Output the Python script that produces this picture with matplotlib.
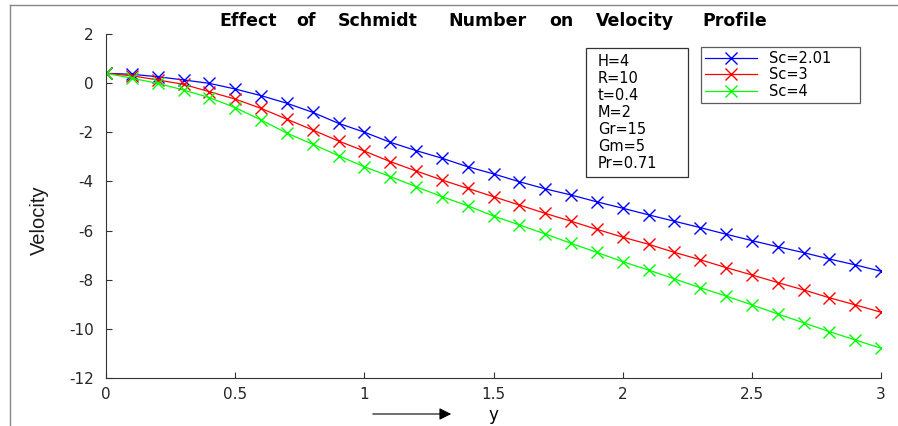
import matplotlib
matplotlib.use("Agg")
import matplotlib.pyplot as plt
from matplotlib.lines import Line2D
from matplotlib.patches import Rectangle, FancyArrowPatch

plt.rcParams['font.family'] = ['DejaVu Sans']
plt.rcParams['axes.unicode_minus'] = False

y_vals = [0.0, 0.1, 0.2, 0.3, 0.4, 0.5, 0.6, 0.7, 0.8, 0.9, 1.0,
          1.1, 1.2, 1.3, 1.4, 1.5, 1.6, 1.7, 1.8, 1.9, 2.0,
          2.1, 2.2, 2.3, 2.4, 2.5, 2.6, 2.7, 2.8, 2.9, 3.0]

vel_sc201 = [0.41, 0.37, 0.27, 0.14, 0.00, -0.23, -0.50, -0.81, -1.18, -1.63, -1.99,
             -2.40, -2.74, -3.05, -3.40, -3.69, -4.01, -4.30, -4.55, -4.83, -5.09,
             -5.36, -5.62, -5.88, -6.15, -6.41, -6.66, -6.90, -7.16, -7.40, -7.66]
vel_sc3 = [0.41, 0.31, 0.14, -0.04, -0.34, -0.64, -1.02, -1.46, -1.90, -2.35, -2.76,
           -3.19, -3.57, -3.94, -4.28, -4.62, -4.96, -5.30, -5.62, -5.95, -6.27,
           -6.56, -6.89, -7.19, -7.51, -7.81, -8.12, -8.42, -8.74, -9.03, -9.33]
vel_sc4 = [0.41, 0.21, 0.00, -0.27, -0.58, -0.99, -1.49, -2.03, -2.48, -2.95, -3.40,
           -3.80, -4.21, -4.62, -4.99, -5.41, -5.77, -6.14, -6.52, -6.89, -7.27,
           -7.61, -7.97, -8.33, -8.67, -9.03, -9.40, -9.76, -10.12, -10.46, -10.80]

series_labels = ['Sc=2.01', 'Sc=3', 'Sc=4']
series_colors = ['#0000ff', '#ff0000', '#00ff00']
param_lines = ['H=4', 'R=10', 't=0.4', 'M=2', 'Gr=15', 'Gm=5', 'Pr=0.71']
x_ticks = [0, 0.5, 1, 1.5, 2, 2.5, 3]
x_ticklabels = ['0', '0.5', '1', '1.5', '2', '2.5', '3']
y_ticks = [-12, -10, -8, -6, -4, -2, 0, 2]
title_text = 'Effect of Schmidt Number on Velocity Profile'

W, H = 898, 426
def fx(px):
    return px / W
def fy(py):
    return 1 - py / H

fig = plt.figure(figsize=(W / 100, H / 100), dpi=100)
ax_l, ax_r, ax_t, ax_b = 106, 881, 34.3, 377.7
ax = fig.add_axes([fx(ax_l), fy(ax_b), (ax_r - ax_l) / W, (ax_b - ax_t) / H])

for vals, lab, col in zip([vel_sc201, vel_sc3, vel_sc4], series_labels, series_colors):
    ax.plot(y_vals, vals, color=col, lw=0.9, marker='x', ms=8, mew=1.0, label=lab)

ax.set_xlim(0, 3)
ax.set_ylim(-12, 2)
ax.set_xticks(x_ticks)
ax.set_xticklabels(x_ticklabels)
ax.set_yticks(y_ticks)
ax.spines['top'].set_visible(False)
ax.spines['right'].set_visible(False)
for s in ['left', 'bottom']:
    ax.spines[s].set_color('#333333')
    ax.spines[s].set_linewidth(0.8)
ax.tick_params(direction='in', length=4, width=0.8, labelsize=11, colors='#333333',
               labelcolor='#262626')
ax.tick_params(axis='y', pad=9)
ax.tick_params(axis='x', pad=7)

# Title, words spread over the reference extent
renderer = fig.canvas.get_renderer()
tfs = 12.5
def text_width(s):
    t = fig.text(0, 0, s, fontsize=tfs, fontweight='bold')
    w = t.get_window_extent(renderer).width
    t.remove()
    return w
full_w = text_width(title_text)
pos = 0
words = title_text.split(' ')
for w in words:
    end = pos + len(w)
    end_w = text_width(title_text[:end])
    ww = text_width(w)
    center_nat = end_w - ww / 2
    cx = 211 + center_nat / full_w * (777 - 211)
    fig.text(fx(cx), fy(21.5), w, fontsize=tfs, fontweight='bold',
             ha='center', va='center', color='black')
    pos = end + 1

# y label
fig.text(fx(39), fy(220), 'Velocity', family='Liberation Sans', fontsize=14.5,
         rotation=90, ha='center', va='center', color='#1a1a1a')

# Legend
lx0, lx1, ly0, ly1 = 701, 860, 47.3, 100.7
bb = (
    (lx0 - ax_l) / (ax_r - ax_l), (ax_b - ly1) / (ax_b - ax_t),
    (lx1 - lx0) / (ax_r - ax_l), (ly1 - ly0) / (ax_b - ax_t),
)
leg = ax.legend(loc='upper left', bbox_to_anchor=bb, mode='expand',
                borderaxespad=0, fontsize=10.5, frameon=True, fancybox=False,
                handlelength=3.6, handletextpad=0.8, labelspacing=0.1,
                borderpad=0.25, numpoints=1)
leg.get_frame().set_edgecolor('#333333')
leg.get_frame().set_linewidth(0.9)
for h in leg.legend_handles:
    h.set_markersize(8)

# Parameter box
fig.add_artist(Rectangle((fx(586), fy(177)), (688 - 586) / W, (177 - 48) / H,
                         transform=fig.transFigure, fc='white', ec='#333333', lw=0.9,
                         zorder=5))
for k, line in enumerate(param_lines):
    fig.text(fx(598), fy(61.7 + k * 17.05 + 4.3), line, fontsize=10.5,
             ha='left', va='baseline', color='black', zorder=6)

# x-axis label with arrow
fig.add_artist(FancyArrowPatch((fx(370), fy(414)), (fx(454), fy(414)),
                               transform=fig.transFigure, arrowstyle='-|>',
                               mutation_scale=18, color='black', lw=0.8))
fig.text(fx(493), fy(415), 'y', fontsize=12, ha='center', va='center')

# figure frame (top and left edges)
fig.add_artist(Line2D([fx(10), fx(10)], [0, fy(5)], transform=fig.transFigure,
                      color='#888888', lw=1.0))
fig.add_artist(Line2D([fx(10), 1], [fy(5), fy(5)], transform=fig.transFigure,
                      color='#888888', lw=1.0))

fig.savefig('out.png', dpi=100)
